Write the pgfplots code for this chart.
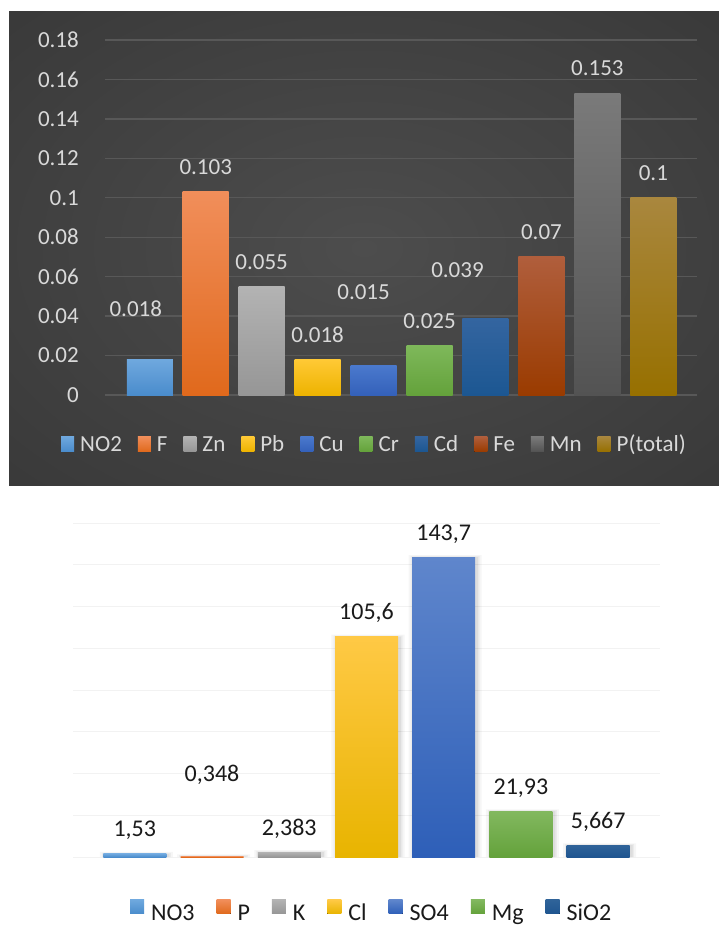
\documentclass[border=0pt]{standalone}
\usepackage{pgfplots}
\usepackage{pgfplotstable}
\pgfplotsset{compat=1.18}
\usepackage{fontspec}
\setmainfont{Carlito}

\definecolor{bgin}{HTML}{4D4D4D}
\definecolor{bgout}{HTML}{262626}
\definecolor{gridtop}{HTML}{585858}
\definecolor{gridbot}{HTML}{F2F2F2}
\definecolor{lbl}{HTML}{D9D9D9}
\definecolor{dark}{HTML}{1A1A1A}

\definecolor{c1t}{HTML}{6FA8DE}\definecolor{c1b}{HTML}{4A8CCC}
\definecolor{c2t}{HTML}{F18E5A}\definecolor{c2b}{HTML}{E0691C}
\definecolor{c3t}{HTML}{B3B3B3}\definecolor{c3b}{HTML}{969696}
\definecolor{c4t}{HTML}{FFC935}\definecolor{c4b}{HTML}{EDB300}
\definecolor{c5t}{HTML}{4A79CD}\definecolor{c5b}{HTML}{3461BA}
\definecolor{c6t}{HTML}{7EB85A}\definecolor{c6b}{HTML}{64A23B}
\definecolor{c7t}{HTML}{3465A0}\definecolor{c7b}{HTML}{1C5792}
\definecolor{c8t}{HTML}{B05E3C}\definecolor{c8b}{HTML}{9A3B00}
\definecolor{c9t}{HTML}{7A7A7A}\definecolor{c9b}{HTML}{535353}
\definecolor{c10t}{HTML}{A9873E}\definecolor{c10b}{HTML}{977000}

\definecolor{d4t}{HTML}{FFC945}\definecolor{d4b}{HTML}{E8B400}
\definecolor{d5t}{HTML}{5F86CC}\definecolor{d5b}{HTML}{2E5FB8}
\definecolor{d6t}{HTML}{82B85F}\definecolor{d6b}{HTML}{64A23B}
\definecolor{d7t}{HTML}{2F6399}\definecolor{d7b}{HTML}{1F5590}

\pgfplotsset{
  tbar/.style={ybar, bar width=46bp, bar shift=0pt, draw=none, nodes near coords,
    legend image code/.code={\fill[##1] (0bp,-5.5bp) rectangle (13bp,9.5bp);}},
  bbar/.style={ybar, bar width=63bp, bar shift=0pt, draw=none, nodes near coords,
    legend image code/.code={\fill[##1] (0bp,1bp) rectangle (14bp,15bp);}},
  shadowbar/.style={ybar, bar shift=1.5bp, draw=none, fill=black, fill opacity=#1, forget plot},
}

\pgfplotstableread{
x y
0 1.53
1 0.348
2 2.383
3 105.6
4 143.7
5 21.93
6 5.667
}\bottomdata

\begin{document}
\begin{tikzpicture}
\path[fill=white, use as bounding box] (0bp,0bp) rectangle (719bp,-927bp);
\begin{scope}
\clip (9bp,-11bp) rectangle (719bp,-485bp);
\shade[inner color=bgin, outer color=bgout] (-640bp,423bp) rectangle (1368bp,-919bp);
\end{scope}

% ---------------- top chart ----------------
\begin{axis}[
  at={(105bp,-395bp)}, anchor=south west,
  scale only axis, width=592bp, height=355bp,
  xmin=-0.8, xmax=9.78, ymin=0, ymax=0.18,
  xtick=\empty,
  ytick={0,0.02,0.04,0.06,0.08,0.1,0.12,0.14,0.16,0.18},
  scaled y ticks=false,
  /pgf/number format/fixed, /pgf/number format/precision=3,
  /pgf/number format/assume math mode=true,
  yticklabel style={font=\fontsize{23bp}{27bp}\selectfont, text=lbl, inner sep=0pt, xshift=-26bp},
  axis line style={draw=none},
  major tick style={draw=none},
  ymajorgrids, grid style={line width=1.3bp, draw=gridtop},
  clip=false,
  legend columns=-1,
  legend style={at={(-0.074,-0.1437)}, anchor=west, draw=none, fill=none,
    inner sep=0pt, outer sep=0pt,
    font=\fontsize{23bp}{27bp}\selectfont, text=lbl,
    nodes={inner sep=0pt, text height=15bp, text depth=4bp},
    /tikz/every odd column/.append style={column sep=6bp},
    /tikz/every even column/.append style={column sep=16bp}},
  nodes near coords style={font=\fontsize{23bp}{27bp}\selectfont, text=lbl, anchor=base, inner sep=0pt, yshift=17.5bp},
]
\addplot[tbar, top color=c1t, bottom color=c1b, nodes near coords style={xshift=-14bp, yshift=26bp}] coordinates {(0,0.018)};
\addlegendentry{NO2}
\addplot[tbar, top color=c2t, bottom color=c2b] coordinates {(1,0.103)};
\addlegendentry{F}
\addplot[tbar, top color=c3t, bottom color=c3b] coordinates {(2,0.055)};
\addlegendentry{Zn}
\addplot[tbar, top color=c4t, bottom color=c4b] coordinates {(3,0.018)};
\addlegendentry{Pb}
\addplot[tbar, top color=c5t, bottom color=c5b, nodes near coords style={xshift=-10bp, yshift=48bp}] coordinates {(4,0.015)};
\addlegendentry{Cu}
\addplot[tbar, top color=c6t, bottom color=c6b] coordinates {(5,0.025)};
\addlegendentry{Cr}
\addplot[tbar, top color=c7t, bottom color=c7b, nodes near coords style={xshift=-28bp, yshift=23bp}] coordinates {(6,0.039)};
\addlegendentry{Cd}
\addplot[tbar, top color=c8t, bottom color=c8b] coordinates {(7,0.07)};
\addlegendentry{Fe}
\addplot[tbar, top color=c9t, bottom color=c9b] coordinates {(8,0.153)};
\addlegendentry{Mn}
\addplot[tbar, top color=c10t, bottom color=c10b] coordinates {(9,0.1)};
\addlegendentry{P(total)}
\end{axis}

% ---------------- bottom chart ----------------
\begin{axis}[
  at={(73bp,-857bp)}, anchor=south west,
  scale only axis, width=587bp, height=334bp,
  xmin=-0.8, xmax=6.8, ymin=0, ymax=160,
  xtick=\empty,
  ytick={0,20,40,60,80,100,120,140,160}, yticklabels={},
  /pgf/number format/fixed, /pgf/number format/precision=3,
  /pgf/number format/use comma,
  /pgf/number format/assume math mode=true,
  axis line style={draw=none},
  major tick style={draw=none},
  ymajorgrids, grid style={line width=1bp, draw=gridbot},
  clip=false,
  legend columns=-1,
  legend style={at={(0.0971,-0.1647)}, anchor=west, draw=none, fill=none,
    inner sep=0pt, outer sep=0pt,
    font=\fontsize{24bp}{28bp}\selectfont, text=dark,
    nodes={inner sep=0pt, text height=15bp, text depth=4bp},
    /tikz/every odd column/.append style={column sep=7bp},
    /tikz/every even column/.append style={column sep=22bp}},
  nodes near coords style={font=\fontsize{24bp}{28bp}\selectfont, text=dark, anchor=base, inner sep=0pt, yshift=17bp},
]
% soft shadows behind the bars
\addplot[shadowbar=0.035, bar width=73bp] table[x=x, y expr=\thisrow{y}+0.9] {\bottomdata};
\addplot[shadowbar=0.045, bar width=69bp] table[x=x, y expr=\thisrow{y}+0.5] {\bottomdata};
\addplot[shadowbar=0.06, bar width=66bp] table[x=x, y=y] {\bottomdata};

\addplot[bbar, top color=c1t, bottom color=c1b] coordinates {(0,1.53)};
\addlegendentry{NO3}
\addplot[bbar, top color=c2t, bottom color=c2b, nodes near coords style={yshift=58bp}] coordinates {(1,0.348)};
\addlegendentry{P}
\addplot[bbar, top color=c3t, bottom color=c3b] coordinates {(2,2.383)};
\addlegendentry{K}
\addplot[bbar, top color=d4t, bottom color=d4b] coordinates {(3,105.6)};
\addlegendentry{Cl}
\addplot[bbar, top color=d5t, bottom color=d5b] coordinates {(4,143.7)};
\addlegendentry{SO4}
\addplot[bbar, top color=d6t, bottom color=d6b] coordinates {(5,21.93)};
\addlegendentry{Mg}
\addplot[bbar, top color=d7t, bottom color=d7b] coordinates {(6,5.667)};
\addlegendentry{SiO2}
\end{axis}
\end{tikzpicture}
\end{document}
